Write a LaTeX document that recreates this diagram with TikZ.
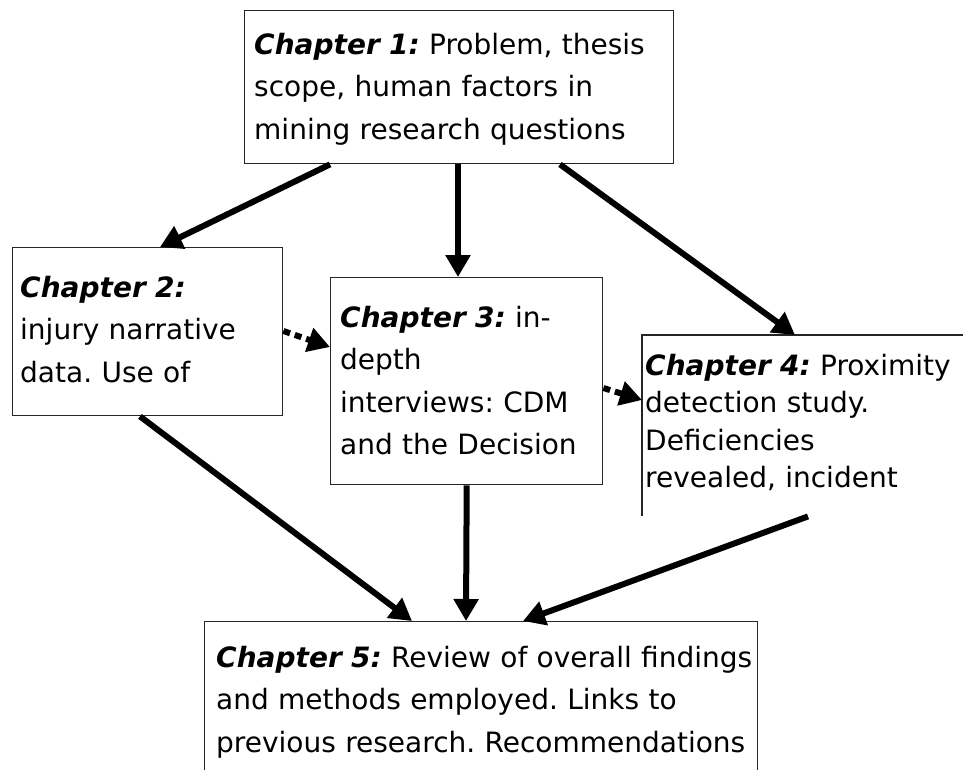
\documentclass[tikz,border=0pt]{standalone}
\usepackage{fontspec}
\setmainfont{DejaVu Sans}
\usetikzlibrary{arrows.meta,calc}
\frenchspacing

\tikzset{
  chapbox/.style={draw=black!85, line width=1.4pt, rectangle, inner sep=0pt, anchor=north west},
  chaptext/.style={anchor=base west, inner sep=0pt, text width=600pt, align=left,
                   font=\fontsize{28}{42.5}\selectfont},
  flow/.style={line width=6pt, -{Triangle[length=22pt,width=24pt]}},
  hint/.style={flow, dash pattern=on 7pt off 5pt},
}
\newcommand{\chap}[1]{{\bfseries\itshape Chapter #1:}}

\begin{document}
\begin{tikzpicture}[x=1pt,y=-1pt]
\useasboundingbox (0,0) rectangle (963,769);
\clip (0,0) rectangle (963,769);
\fill[white] (0,0) rectangle (963,769);

% chapter frames
\node[chapbox, minimum width=429pt, minimum height=153pt] (b1) at (244,10) {};
\node[chapbox, minimum width=270pt, minimum height=168pt] (b2) at (12,247) {};
\node[chapbox, minimum width=272pt, minimum height=207pt] (b3) at (330,277) {};
\node[chapbox, draw=none, minimum width=330pt, minimum height=180pt] (b4) at (642,335) {};
\draw[black!85, line width=1.4pt] (b4.south west) -- (b4.north west) -- (b4.north east);
\node[chapbox, minimum width=553pt, minimum height=190pt] (b5) at (204,621) {};

% chapter descriptions
\node[chaptext] (t1) at (254,54) {\chap{1} Problem, thesis\\scope, human factors in\\mining research questions};
\node[chaptext] (t2) at (20,297) {\chap{2}\\injury narrative\\data. Use of};
\node[chaptext] (t3) at (340,327) {\chap{3} in-\\depth\\interviews: CDM\\and the Decision};
\node[chaptext, font=\fontsize{28}{37.5}\selectfont] (t4) at (645,375) {\chap{4} Proximity\\detection study.\\Deficiencies\\revealed, incident};
\node[chaptext] (t5) at (216,667) {\chap{5} Review of overall findings\\and methods employed. Links to\\previous research. Recommendations};

% links between chapters
\draw[flow] ($(b1.south west)+(86,0)$) -- ($(b2.north west)+(148,0)$);
\draw[flow] ($(b1.south west)+(214,0)$) -- ($(b3.north west)+(128,0)$);
\draw[flow] ($(b1.south west)+(316,0)$) -- ($(b4.north west)+(153,0)$);
\draw[hint] ($(b2.north east)+(0,84)$) -- ($(b3.north west)+(0,70)$);
\draw[hint] ($(b3.north east)+(0,111)$) -- ($(b4.north west)+(0,65)$);
\draw[flow] ($(b2.south west)+(128,0)$) -- ($(b5.north west)+(208,0)$);
\draw[flow] (b3.south) -- ($(b5.north west)+(262,0)$);
\draw[flow] ($(b4.south west)+(166,0)$) -- ($(b5.north west)+(319,0)$);
\end{tikzpicture}
\end{document}
